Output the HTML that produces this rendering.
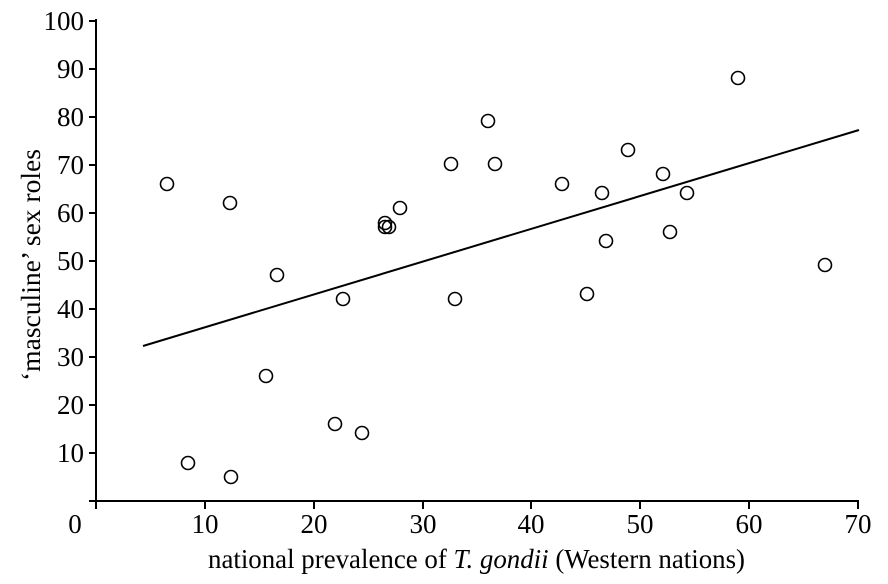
<!DOCTYPE html>
<html><head><style>body{margin:0;background:#fff}svg{display:block}text{font-family:"Liberation Serif",serif;font-size:27px;fill:#000}</style></head><body>
<svg width="888" height="584" viewBox="0 0 888 584">
<g stroke="#000" stroke-width="2" fill="none">
<line x1="96" y1="19" x2="96" y2="501"/>
<line x1="89" y1="501" x2="859" y2="501"/>
<line x1="89" y1="21" x2="96" y2="21"/><line x1="89" y1="69" x2="96" y2="69"/><line x1="89" y1="117" x2="96" y2="117"/><line x1="89" y1="165" x2="96" y2="165"/><line x1="89" y1="213" x2="96" y2="213"/><line x1="89" y1="261" x2="96" y2="261"/><line x1="89" y1="309" x2="96" y2="309"/><line x1="89" y1="357" x2="96" y2="357"/><line x1="89" y1="405" x2="96" y2="405"/><line x1="89" y1="453" x2="96" y2="453"/>
<line x1="96" y1="501" x2="96" y2="509"/><line x1="205" y1="501" x2="205" y2="509"/><line x1="314" y1="501" x2="314" y2="509"/><line x1="423" y1="501" x2="423" y2="509"/><line x1="531" y1="501" x2="531" y2="509"/><line x1="640" y1="501" x2="640" y2="509"/><line x1="749" y1="501" x2="749" y2="509"/><line x1="858" y1="501" x2="858" y2="509"/>
<line x1="143" y1="346" x2="859" y2="130"/>
</g>
<g stroke="#000" stroke-width="1.6" fill="none">
<circle cx="167" cy="184" r="6.5"/><circle cx="230" cy="203" r="6.5"/><circle cx="277" cy="275" r="6.5"/><circle cx="266" cy="376" r="6.5"/><circle cx="188" cy="463" r="6.5"/><circle cx="231" cy="477" r="6.5"/><circle cx="335" cy="424" r="6.5"/><circle cx="362" cy="433" r="6.5"/><circle cx="343" cy="299" r="6.5"/><circle cx="385" cy="223" r="6.5"/><circle cx="385" cy="227" r="6.5"/><circle cx="389" cy="227" r="6.5"/><circle cx="400" cy="208" r="6.5"/><circle cx="451" cy="164" r="6.5"/><circle cx="455" cy="299" r="6.5"/><circle cx="488" cy="121" r="6.5"/><circle cx="495" cy="164" r="6.5"/><circle cx="562" cy="184" r="6.5"/><circle cx="587" cy="294" r="6.5"/><circle cx="602" cy="193" r="6.5"/><circle cx="606" cy="241" r="6.5"/><circle cx="628" cy="150" r="6.5"/><circle cx="663" cy="174" r="6.5"/><circle cx="670" cy="232" r="6.5"/><circle cx="687" cy="193" r="6.5"/><circle cx="738" cy="78" r="6.5"/><circle cx="825" cy="265" r="6.5"/>
</g>
<g text-anchor="end">
<text x="84" y="30">100</text><text x="84" y="78">90</text><text x="84" y="126">80</text><text x="84" y="174">70</text><text x="84" y="222">60</text><text x="84" y="270">50</text><text x="84" y="318">40</text><text x="84" y="366">30</text><text x="84" y="414">20</text><text x="84" y="462">10</text>
</g>
<g text-anchor="middle">
<text x="75" y="533">0</text><text x="205" y="533">10</text><text x="314" y="533">20</text><text x="423" y="533">30</text><text x="531" y="533">40</text><text x="640" y="533">50</text><text x="749" y="533">60</text><text x="858" y="533">70</text>
</g>
<text x="208" y="568" font-size="25" textLength="537" lengthAdjust="spacingAndGlyphs">national prevalence of <tspan font-style="italic">T. gondii</tspan> (Western nations)</text>
<text transform="translate(40,381) rotate(-90)" font-size="24" textLength="232" lengthAdjust="spacingAndGlyphs">‘masculine’ sex roles</text>
</svg>
</body></html>
